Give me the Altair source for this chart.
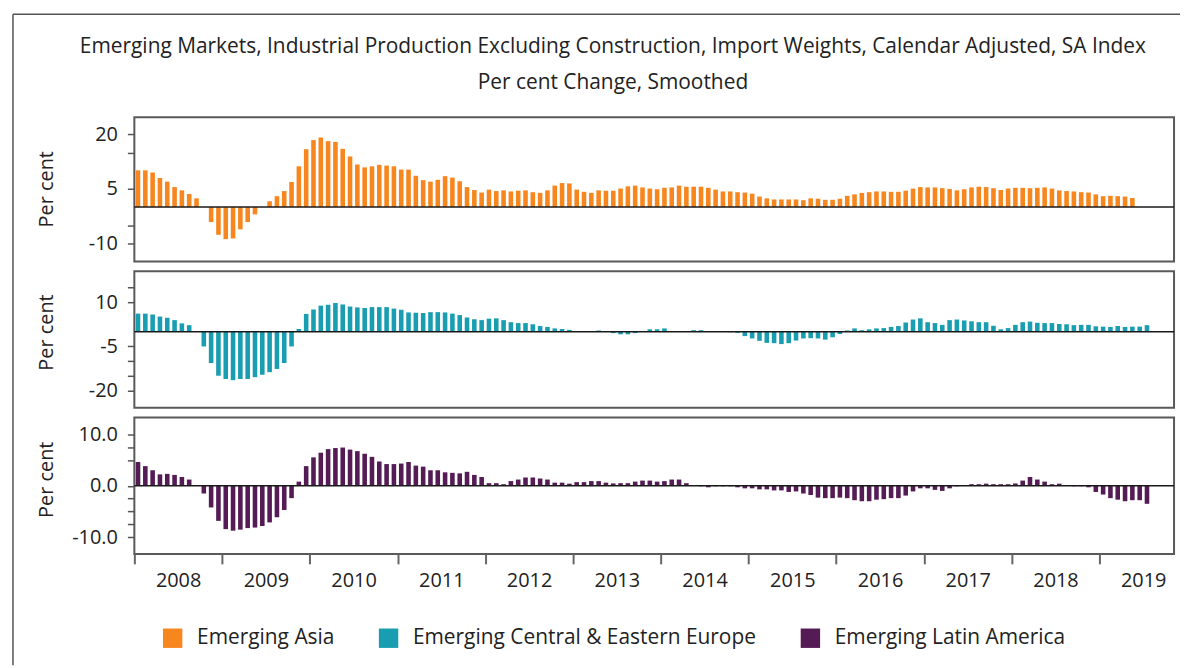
import altair as alt
import pandas as pd

names = ["Emerging Asia", "Emerging Central & Eastern Europe", "Emerging Latin America"]
colors = ["#F7861F", "#199DB0", "#541B55"]
years = list(range(2008, 2020))

# monthly values from Jan 2008
asia = [10.1, 10.1, 9.5, 8.0, 7.0, 5.5, 4.6, 3.6, 2.4, 0.0, -4.1, -7.6,
        -8.8, -8.6, -6.1, -4.1, -2.0, 0.0, 1.6, 3.0, 4.4, 6.9, 11.2, 15.9,
        18.4, 19.1, 18.1, 17.9, 16.0, 13.9, 11.7, 10.9, 11.2, 11.6, 11.4, 11.2,
        10.3, 10.3, 8.6, 7.4, 7.0, 7.5, 8.5, 8.1, 7.1, 5.5, 4.7, 4.0,
        4.8, 4.4, 4.6, 4.3, 4.5, 4.6, 4.1, 3.9, 4.6, 5.9, 6.6, 6.5,
        4.8, 4.2, 3.9, 4.6, 4.5, 4.5, 5.1, 5.7, 5.9, 5.4, 5.1, 4.9,
        5.3, 5.4, 5.9, 5.6, 5.6, 5.6, 5.3, 4.8, 4.3, 4.3, 4.1, 4.0,
        3.7, 2.9, 2.4, 2.1, 2.1, 2.1, 2.1, 1.9, 2.4, 2.3, 2.0, 2.0,
        2.3, 3.1, 3.5, 3.9, 4.1, 4.3, 4.3, 4.2, 4.2, 4.5, 5.1, 5.5,
        5.4, 5.4, 5.2, 5.0, 4.6, 4.9, 5.4, 5.6, 5.5, 5.2, 4.7, 5.1,
        5.3, 5.3, 5.2, 5.3, 5.4, 5.1, 4.6, 4.4, 4.3, 4.1, 4.0, 3.5,
        3.0, 3.1, 3.0, 2.9, 2.5]

ceee = [6.1, 6.1, 5.8, 5.1, 4.7, 3.9, 2.8, 2.2, 0.0, -5.0, -10.6, -14.9,
        -16.0, -16.4, -16.0, -16.0, -15.4, -14.6, -13.7, -12.6, -10.6, -5.0, 0.9, 6.0,
        7.5, 8.8, 9.1, 9.7, 9.2, 8.5, 8.2, 8.0, 8.3, 8.3, 8.3, 7.8,
        7.4, 6.5, 6.4, 6.3, 6.6, 6.6, 6.5, 6.1, 5.6, 4.8, 4.2, 3.9,
        4.4, 4.5, 3.9, 3.2, 2.9, 2.9, 2.5, 1.9, 1.6, 1.1, 0.9, 0.6,
        0.1, 0.1, 0.2, 0.4, 0.1, -0.5, -0.9, -0.9, -0.5, 0.0, 0.8, 0.8,
        1.1, 0.0, 0.2, 0.0, 0.5, 0.5, 0.2, 0.0, 0.0, -0.2, -0.4, -1.5,
        -2.3, -3.1, -3.8, -3.9, -4.2, -3.9, -3.0, -2.3, -2.2, -2.3, -2.7, -1.9,
        -0.8, 0.4, 1.1, 0.5, 0.8, 1.1, 1.2, 1.6, 1.9, 3.1, 4.1, 4.5,
        3.2, 2.9, 2.3, 3.9, 4.1, 3.8, 3.5, 3.2, 3.2, 2.0, 0.8, 1.2,
        2.3, 3.2, 3.4, 3.0, 2.9, 2.9, 2.6, 2.5, 2.2, 2.3, 2.3, 1.8,
        1.7, 1.6, 1.9, 1.6, 1.7, 1.7, 2.2]

latam = [4.6, 3.8, 3.0, 2.2, 2.3, 2.1, 1.7, 1.2, 0.0, -1.5, -4.2, -6.8,
         -8.4, -8.7, -8.5, -8.2, -8.1, -7.8, -7.1, -6.1, -4.7, -2.4, 0.8, 3.8,
         5.5, 6.4, 7.1, 7.3, 7.4, 7.0, 6.7, 6.2, 5.6, 4.7, 4.2, 4.2,
         4.3, 4.6, 3.9, 3.7, 3.0, 3.0, 2.6, 2.5, 2.4, 2.7, 2.1, 1.7,
         0.5, 0.5, 0.3, 0.9, 1.2, 1.6, 1.6, 1.4, 1.2, 0.6, 0.6, 0.4,
         0.7, 0.7, 0.9, 0.9, 0.6, 0.45, 0.5, 0.5, 0.8, 1.0, 1.0, 0.8,
         0.9, 1.2, 1.2, 0.5, 0.1, -0.1, -0.3, -0.1, -0.1, -0.1, -0.3, -0.5,
         -0.5, -0.7, -0.7, -0.9, -0.9, -1.2, -1.1, -1.5, -1.8, -2.3, -2.4, -2.4,
         -2.3, -2.4, -2.8, -3.0, -3.0, -2.7, -2.6, -2.4, -2.4, -1.9, -1.1, -0.5,
         -0.5, -0.8, -1.0, -0.5, -0.1, 0.1, 0.3, 0.3, 0.4, 0.3, 0.3, 0.3,
         0.45, 1.0, 1.7, 1.2, 0.8, 0.3, 0.4, 0.1, -0.1, -0.1, -0.3, -1.2,
         -1.7, -2.4, -2.7, -3.0, -2.8, -2.8, -3.5]

title1 = "Emerging Markets, Industrial Production Excluding Construction, Import Weights, Calendar Adjusted, SA Index"
title2 = "Per cent Change, Smoothed"

FONT = "Open Sans"
W = 1045
xs = alt.Scale(domain=[2008, 2019.85], nice=False, zero=False, padding=0)
scol = alt.Scale(domain=names, range=colors)
legend = alt.Legend(orient="none", legendX=28, legendY=513, direction="horizontal",
                    title=None, symbolType="square", symbolSize=380, symbolStrokeWidth=0,
                    labelFontSize=21, labelFont=FONT, labelColor="#222", labelOffset=14,
                    labelLimit=0, columnPadding=43, symbolOpacity=1)


def frame(vals, name):
    return pd.DataFrame({
        "t": [2008 + (i + 0.5) / 12 for i in range(len(vals))],
        "v": vals,
        "z": [0.0] * len(vals),
        "s": [name] * len(vals),
    })


def panel(vals, name, ydom, tickvals, labelvals, fmt, height, title_y, show_x):
    df = frame(vals, name)
    if show_x:
        xaxis = alt.Axis(values=years, tickSize=10, tickWidth=2, tickColor="#666",
                         labelOffset=44, format="d", domain=False, grid=False, title=None,
                         labelPadding=7, labelFlush=False, labelOverlap=False,
                         labelFontSize=20, labelFont=FONT)
    else:
        xaxis = None
    lab = "[" + ",".join(str(v) for v in labelvals) + "]"
    yaxis = alt.Axis(values=tickvals, grid=False, domain=False, tickSize=7, tickWidth=1.5,
                     tickColor="#555", labelPadding=10, labelFontSize=20, labelFont=FONT,
                     labelOverlap=False, labelFlush=False,
                     labelExpr="indexof(" + lab + ", datum.value) >= 0 ? replace(format(datum.value, '"
                     + fmt + "'), '\u2212', '-') : ''",
                     title="Per cent", titleFont=FONT, titleFontSize=20, titleFontWeight="normal",
                     titleX=-88, titleY=title_y, titleAngle=270, titleAlign="center",
                     titleBaseline="middle")
    ysc = alt.Scale(domain=ydom, nice=False, zero=False)
    bars = alt.Chart(df).mark_bar(size=4.6).encode(
        x=alt.X("t:Q", scale=xs, axis=xaxis),
        y=alt.Y("v:Q", scale=ysc, axis=yaxis),
        y2="z:Q",
        color=alt.Color("s:N", scale=scol, legend=legend),
    )
    zero = alt.Chart(pd.DataFrame({"z": [0.0]})).mark_rule(color="#1a1a1a", strokeWidth=1.5).encode(
        y=alt.Y("z:Q", scale=ysc, axis=yaxis)
    )
    return alt.layer(bars, zero).properties(width=W, height=height)


one = pd.DataFrame({"a": [0]})
border_v = alt.Chart(one).mark_rule(color="#555", strokeWidth=1.5).encode(
    x=alt.value(-122), y=alt.value(-103.5), y2=alt.value(551))
border_h = alt.Chart(one).mark_rule(color="#555", strokeWidth=1.5).encode(
    x=alt.value(-122), x2=alt.value(1051), y=alt.value(-103.5))
t1 = alt.Chart(one).mark_text(fontSize=21, font=FONT, color="#222", baseline="middle").encode(
    x=alt.value(481), y=alt.value(-70), text=alt.value(title1))
t2 = alt.Chart(one).mark_text(fontSize=21, font=FONT, color="#222", baseline="middle").encode(
    x=alt.value(481), y=alt.value(-34), text=alt.value(title2))

p1 = panel(asia, names[0], [-14.9, 24.7], [20, 15, 5, -5, -10], [20, 5, -10], "d", 145, 72, False)
p1 = alt.layer(p1, border_v, border_h, t1, t2)
p2 = panel(ceee, names[1], [-25.7, 20.4], [15, 10, -5, -10, -15, -20], [10, -5, -20], "d", 137, 61, False)
p3 = panel(latam, names[2], [-13.2, 13.2], [10, 7.5, 5, 0, -2.5, -5, -7.5, -10], [10, 0, -10], ".1f", 137, 62, True)

chart = alt.vconcat(p1, p2, p3, spacing=10, bounds="flush").properties(
    padding={"left": 3, "top": 2, "right": 0, "bottom": 0}
).configure_view(stroke="#595959", strokeWidth=2).configure_axis(
    labelColor="#222", titleColor="#222", labelOverlap=False
)

chart.save("out.html", embed_options={"renderer": "svg", "actions": False})
